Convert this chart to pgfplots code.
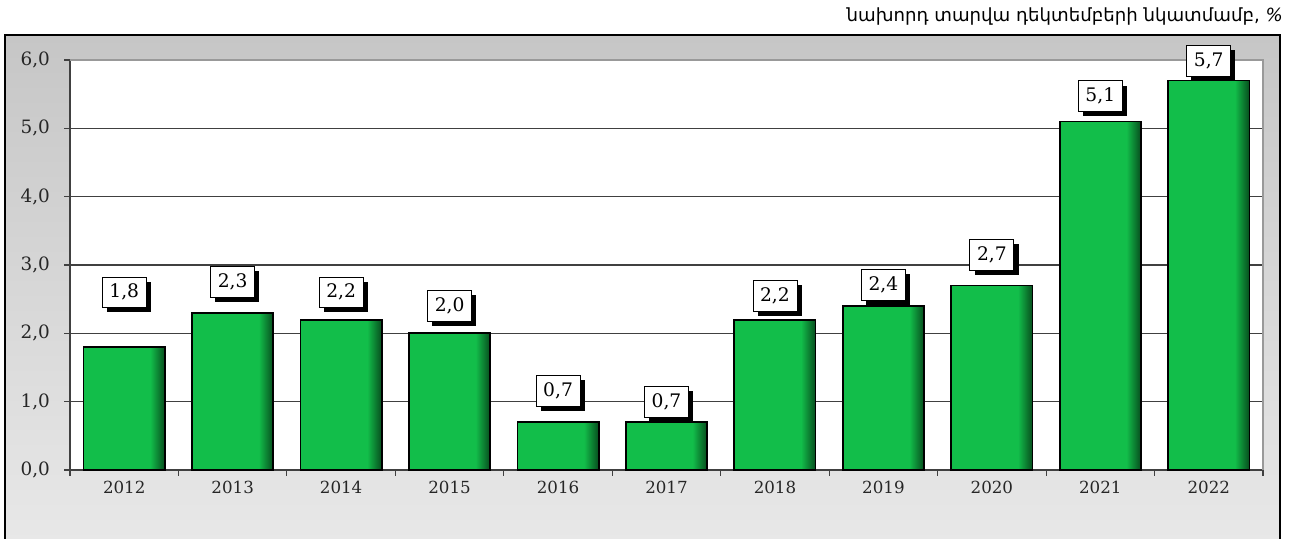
\documentclass[border=0pt]{standalone}
\usepackage{pgfplots}
\pgfplotsset{compat=1.18}
\usepackage{fontspec}
\setmainfont{DejaVu Serif}
\newfontfamily\armfont{DejaVu Sans}
\usetikzlibrary{shadows}
\definecolor{bargreen}{RGB}{18,190,74}
\pgfdeclarehorizontalshading{barshade}{100bp}{color(0bp)=(bargreen); color(25bp)=(bargreen); color(66bp)=(bargreen); color(75bp)=(bargreen!40!black); color(100bp)=(bargreen!40!black)}
\pgfplotsset{gbar/.style={ybar, bar width=0.75, shade, shading=barshade, draw=black, line width=1.3pt}}
\begin{document}
\begin{tikzpicture}
\useasboundingbox (0,0) rectangle (969.75pt,404.25pt);
\shade[top color={rgb,255:red,198;green,198;blue,198}, bottom color={rgb,255:red,232;green,232;blue,232}] (3.75pt,-2pt) rectangle (960pt,378pt);
\draw[black, line width=0.9pt] (3.75pt,-2pt) rectangle (960pt,378pt);
\node[anchor=base east, font=\armfont\fontsize{13.6}{15}\selectfont, inner sep=0pt] at (962.25pt,387.75pt) {նախորդ տարվա դեկտեմբերի նկատմամբ, \textit{\%}};
\begin{axis}[at={(52.5pt,51.75pt)}, anchor=south west, scale only axis,
  width=894.75pt, height=307.5pt,
  xmin=-0.5, xmax=10.5, ymin=0, ymax=6,
  clip=false,
  axis background/.style={fill=white},
  axis x line*=bottom, axis y line*=left,
  axis line style={-, line width=0.9pt, color=black!75},
  tick align=outside, major tick length=4.5pt,
  tick style={line width=0.8pt, color=black!75},
  xtick={-0.5,0.5,...,10.5}, xticklabels=\empty,
  extra x ticks={0,1,2,3,4,5,6,7,8,9,10},
  extra x tick labels={2012,2013,2014,2015,2016,2017,2018,2019,2020,2021,2022},
  extra x tick style={major tick length=0pt},
  ytick={0,1,2,3,4,5,6},
  ymajorgrids, major grid style={line width=0.9pt, color=black!75},
  ticklabel style={font=\fontsize{12.5}{14}\selectfont, color=black!85},
  xticklabel style={yshift=-5pt},
  yticklabel style={font=\fontsize{13.8}{15}\selectfont, xshift=-7pt, /pgf/number format/.cd, fixed, fixed zerofill, precision=1, use comma, assume math mode=true},
]
\addplot[gbar] coordinates {(0,1.8)};
\addplot[gbar] coordinates {(1,2.3)};
\addplot[gbar] coordinates {(2,2.2)};
\addplot[gbar] coordinates {(3,2.0)};
\addplot[gbar] coordinates {(4,0.7)};
\addplot[gbar] coordinates {(5,0.7)};
\addplot[gbar] coordinates {(6,2.2)};
\addplot[gbar] coordinates {(7,2.4)};
\addplot[gbar] coordinates {(8,2.7)};
\addplot[gbar] coordinates {(9,5.1)};
\addplot[gbar] coordinates {(10,5.7)};
\draw[color=black!40, line width=0.9pt] (rel axis cs:0,1) -- (rel axis cs:1,1) -- (rel axis cs:1,0);
\addplot[draw=none, mark=none, nodes near coords, point meta=explicit symbolic,
  nodes near coords style={anchor=center, fill=white, draw=black, line width=0.6pt,
    minimum width=33pt, minimum height=23pt, inner sep=1pt,
    font=\fontsize{14}{16}\selectfont,
    drop shadow={shadow xshift=3.5pt, shadow yshift=-3.5pt, fill=black, opacity=1}}]
  table[meta=lab] {
x y lab
0 2.60 1,8
1 2.75 2,3
2 2.60 2,2
3 2.40 2,0
4 1.16 0,7
5 1.00 0,7
6 2.55 2,2
7 2.71 2,4
8 3.15 2,7
9 5.47 5,1
10 5.99 5,7
};
\end{axis}
\end{tikzpicture}
\end{document}
